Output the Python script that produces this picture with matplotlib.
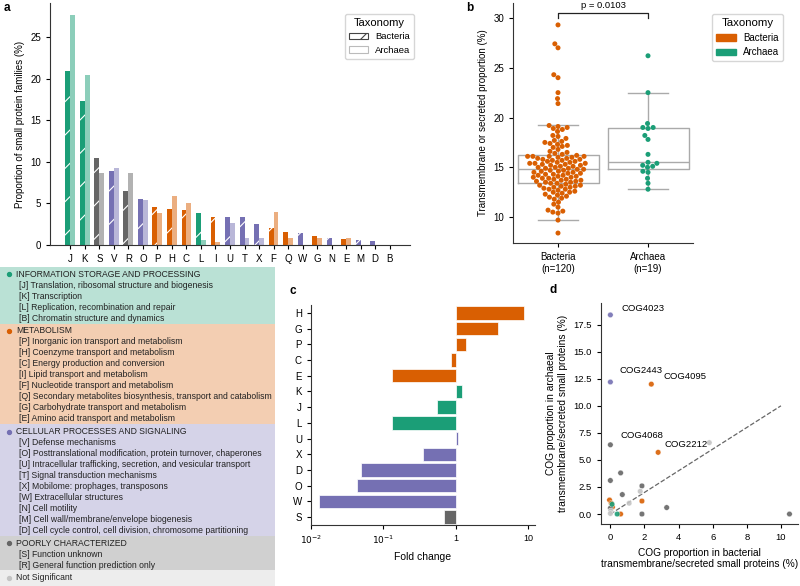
import numpy as np
import pandas as pd
import matplotlib
matplotlib.use('Agg')
import matplotlib.pyplot as plt
from matplotlib.patches import Patch, Rectangle
import seaborn as sns

plt.rcParams['font.family'] = ['Liberation Sans', 'DejaVu Sans']
plt.rcParams['font.size'] = 6.5
plt.rcParams['axes.edgecolor'] = '#333333'
plt.rcParams['axes.linewidth'] = 0.8
plt.rcParams['xtick.major.width'] = 0.8
plt.rcParams['ytick.major.width'] = 0.8
plt.rcParams['xtick.major.size'] = 3
plt.rcParams['ytick.major.size'] = 3
plt.rcParams['hatch.linewidth'] = 0.8

# couleurs des categories COG
couleurs = {'info': '#1b9e77', 'metab': '#d95f02', 'cell': '#7570b3',
            'poor': '#666666', 'ns': '#c4c4c4'}
cat_lettre = {}
for l in "JKLB":
    cat_lettre[l] = 'info'
for l in "PHCIFQGE":
    cat_lettre[l] = 'metab'
for l in "VOUTXWNMD":
    cat_lettre[l] = 'cell'
for l in "SR":
    cat_lettre[l] = 'poor'

# ---- donnees panel a
a_lettres = list("JKSVROPHCLIUTXFQWGNEMDB")
a_bacteria = [20.9, 17.3, 10.5, 8.9, 6.5, 5.5, 4.6, 4.3, 4.2, 3.8, 3.4, 3.4, 3.4, 2.5, 2.1,
              1.6, 1.4, 1.1, 0.9, 0.7, 0.6, 0.5, 0.0]
a_archaea = [27.7, 20.4, 8.7, 9.2, 8.7, 5.4, 3.9, 5.9, 5.1, 0.6, 0.4, 2.7, 0.8, 0.9, 4.0,
             0.9, 0.0, 0.8, 0.0, 0.8, 0.0, 0.0, 0.0]

# ---- donnees panel b
b_bacteria = [8.4, 9.7, 10.4, 10.5, 10.6, 10.7, 11.0, 11.3, 11.5, 11.8, 11.9, 12.0, 12.1, 12.2,
              12.3, 12.4, 12.5, 12.5, 12.6, 12.7, 12.8, 12.8, 12.9, 13.0, 13.0, 13.1, 13.1, 13.2,
              13.2, 13.3,
              13.4, 13.4, 13.5, 13.5, 13.6, 13.6, 13.7, 13.7, 13.8, 13.8, 13.9, 13.9, 14.0, 14.0,
              14.1, 14.1, 14.2, 14.2, 14.3, 14.3, 14.4, 14.4, 14.5, 14.5, 14.6, 14.6, 14.7, 14.7,
              14.8, 14.8,
              14.9, 14.9, 15.0, 15.0, 15.1, 15.1, 15.2, 15.2, 15.3, 15.3, 15.4, 15.4, 15.4, 15.5,
              15.5, 15.6, 15.6, 15.7, 15.7, 15.8, 15.8, 15.9, 15.9, 16.0, 16.0, 16.1, 16.1, 16.1,
              16.1, 16.2,
              16.3, 16.4, 16.5, 16.6, 16.8, 17.0, 17.1, 17.2, 17.3, 17.4, 17.5, 17.6, 17.7,
              17.9, 18.1, 18.2, 18.6, 18.8, 18.9, 19.0, 19.1, 19.2,
              21.4, 21.9, 22.5, 24.0, 24.3, 27.0, 27.4, 29.3]
b_archaea = [12.8, 13.4, 13.9, 14.5, 14.6, 15.0, 15.1, 15.2, 15.4, 15.5, 16.3, 17.8, 18.2,
             18.9, 19.0, 19.0, 19.4, 22.5, 26.2]
b_pvaleur = "p = 0.0103"

# ---- donnees panel c
c_lettres = ['H', 'G', 'P', 'C', 'E', 'K', 'J', 'L', 'U', 'X', 'D', 'O', 'W', 'S']
c_fold = [8.7, 3.9, 1.4, 0.86, 0.13, 1.22, 0.55, 0.13, 1.07, 0.35, 0.049, 0.043, 0.013, 0.68]

# ---- donnees panel d
d_x = [0.0, 0.0, 2.4, 0.0, 2.8, 5.8, 0.6, 0.0, 0.7, 1.85, 1.75, 1.85, 1.1, 3.3, 1.85, 10.5,
       0.6, 0.4, -0.05, 0.05, 0.12, 0.0, 0.02, 0.0, 0.1]
d_y = [18.4, 12.2, 12.0, 6.4, 5.7, 6.6, 3.8, 3.1, 1.8, 2.6, 2.1, 1.2, 1.0, 0.6, 0.0, 0.0,
       0.0, 0.0, 1.3, 1.0, 0.64, 0.55, 0.3, 0.05, 0.9]
d_cat = ['cell', 'cell', 'metab', 'poor', 'metab', 'ns', 'poor', 'poor', 'poor', 'poor', 'ns',
         'metab', 'ns', 'poor', 'poor', 'poor', 'metab', 'info', 'metab', 'metab', 'metab',
         'poor', 'ns', 'ns', 'info']
d_noms = ['COG4023', 'COG2443', 'COG4095', 'COG4068', 'COG2212']
d_noms_x = [0.65, 0.55, 3.1, 0.6, 3.2]
d_noms_y = [19.0, 13.3, 12.7, 7.3, 6.4]

# ---- groupes pour la legende des categories
groupes = [
    ('info', 'INFORMATION STORAGE AND PROCESSING',
     ['[J] Translation, ribosomal structure and biogenesis', '[K] Transcription',
      '[L] Replication, recombination and repair', '[B] Chromatin structure and dynamics']),
    ('metab', 'METABOLISM',
     ['[P] Inorganic ion transport and metabolism', '[H] Coenzyme transport and metabolism',
      '[C] Energy production and conversion', '[I] Lipid transport and metabolism',
      '[F] Nucleotide transport and metabolism',
      '[Q] Secondary metabolites biosynthesis, transport and catabolism',
      '[G] Carbohydrate transport and metabolism', '[E] Amino acid transport and metabolism']),
    ('cell', 'CELLULAR PROCESSES AND SIGNALING',
     ['[V] Defense mechanisms',
      '[O] Posttranslational modification, protein turnover, chaperones',
      '[U] Intracellular trafficking, secretion, and vesicular transport',
      '[T] Signal transduction mechanisms', '[X] Mobilome: prophages, transposons',
      '[W] Extracellular structures', '[N] Cell motility',
      '[M] Cell wall/membrane/envelope biogenesis',
      '[D] Cell cycle control, cell division, chromosome partitioning']),
    ('poor', 'POORLY CHARACTERIZED',
     ['[S] Function unknown', '[R] General function prediction only']),
    ('ns', 'Not Significant', []),
]

W, H = 800, 586
fig = plt.figure(figsize=(8, 5.86), dpi=100)


def boite(x0, y0, x1, y1):
    # pixels -> fraction de figure
    return [x0 / W, 1 - y1 / H, (x1 - x0) / W, (y1 - y0) / H]


def enlever_spines(ax):
    ax.spines['top'].set_visible(False)
    ax.spines['right'].set_visible(False)


# ======================= panel a =======================
ax_a = fig.add_axes(boite(50, 3, 410, 245))
pos = np.arange(len(a_lettres))
larg = 0.34
cols_a = [couleurs[cat_lettre[l]] for l in a_lettres]
ax_a.bar(pos - larg / 2, a_bacteria, width=larg, color=cols_a, edgecolor='white',
         linewidth=0, hatch='/')
ax_a.bar(pos + larg / 2, a_archaea, width=larg, color=cols_a, alpha=0.5, linewidth=0)
ax_a.set_xticks(pos)
ax_a.set_xticklabels(a_lettres, fontsize=7)
ax_a.tick_params(axis='y', labelsize=7)
ax_a.set_xlim(-1.4, 23.4)
ax_a.set_ylim(0, 29.1)
ax_a.set_yticks([0, 5, 10, 15, 20, 25])
ax_a.set_ylabel("Proportion of small protein families (%)", fontsize=7)
enlever_spines(ax_a)
ax_a.legend(handles=[Patch(facecolor='white', edgecolor='#444444', hatch='/', lw=0.8),
                     Patch(facecolor='white', edgecolor='#bbbbbb', lw=0.8)],
            labels=['Bacteria', 'Archaea'], title='Taxonomy', loc='upper right',
            bbox_to_anchor=(1.025, 0.975), fontsize=6.8, title_fontsize=8,
            frameon=True, edgecolor='#cccccc')

# ======================= panel b =======================
ax_b = fig.add_axes(boite(513, 3, 693, 243))
gris_boite = '#aaaaaa'
ax_b.boxplot([b_bacteria, b_archaea], positions=[0, 1], widths=0.9, showfliers=False,
             boxprops=dict(color=gris_boite, lw=1), whiskerprops=dict(color=gris_boite, lw=1),
             capprops=dict(color=gris_boite, lw=1), medianprops=dict(color=gris_boite, lw=1))
df = pd.DataFrame({'tax': ['Bacteria'] * len(b_bacteria) + ['Archaea'] * len(b_archaea),
                   'val': b_bacteria + b_archaea})
sns.swarmplot(data=df, x='tax', y='val', hue='tax', order=['Bacteria', 'Archaea'],
              palette={'Bacteria': couleurs['metab'], 'Archaea': couleurs['info']},
              size=3.6, ax=ax_b, legend=False, zorder=3)
ax_b.set_xlim(-0.5, 1.5)
ax_b.set_ylim(7.4, 31.5)
ax_b.set_xticks([0, 1])
ax_b.set_xticklabels(['Bacteria\n(n=%d)' % len(b_bacteria), 'Archaea\n(n=%d)' % len(b_archaea)],
                     fontsize=7)
ax_b.tick_params(axis='y', labelsize=7)
ax_b.set_yticks([10, 15, 20, 25, 30])
ax_b.set_xlabel('')
ax_b.set_ylabel("Transmembrane or secreted proportion (%)", fontsize=7)
enlever_spines(ax_b)
ax_b.plot([0, 0, 1, 1], [30.0, 30.45, 30.45, 30.0], color='#222222', lw=0.9, clip_on=False)
ax_b.text(0.5, 30.8, b_pvaleur, ha='center', va='bottom', fontsize=6.8, clip_on=False)
ax_b.legend(handles=[Patch(color=couleurs['metab']), Patch(color=couleurs['info'])],
            labels=['Bacteria', 'Archaea'], title='Taxonomy', loc='upper left',
            bbox_to_anchor=(1.08, 0.975), fontsize=7, title_fontsize=8.2, frameon=True,
            edgecolor='#cccccc')

# ======================= panel c =======================
ax_c = fig.add_axes(boite(311, 305, 535, 525))
yc = np.arange(len(c_lettres))
cols_c = [couleurs[cat_lettre[l]] for l in c_lettres]
ax_c.barh(yc, np.array(c_fold) - 1, left=1, height=0.85, color=cols_c, edgecolor='white',
          linewidth=0.5)
ax_c.set_xscale('log')
ax_c.set_xlim(0.01, 12.5)
ax_c.set_ylim(13.5, -0.5)
ax_c.set_yticks(yc)
ax_c.set_yticklabels(c_lettres, fontsize=7)
ax_c.set_xticks([0.01, 0.1, 1, 10])
ax_c.set_xticklabels([r'$10^{-2}$', r'$10^{-1}$', '1', '10'])
ax_c.xaxis.set_minor_locator(matplotlib.ticker.NullLocator())
ax_c.set_xlabel("Fold change", fontsize=7.5)
enlever_spines(ax_c)

# ======================= panel d =======================
ax_d = fig.add_axes(boite(601, 303, 798, 524))
ax_d.plot([0, 10], [0, 10], ls='--', color='#666666', lw=0.9, zorder=1)
ax_d.scatter(d_x, d_y, c=[couleurs[c] for c in d_cat], s=16, edgecolors='white',
             linewidths=0.3, alpha=0.9, zorder=2)
for nom, tx, ty in zip(d_noms, d_noms_x, d_noms_y):
    ax_d.text(tx, ty, nom, fontsize=6.8, va='center', ha='left')
ax_d.set_xlim(-0.55, 11.0)
ax_d.set_ylim(-0.92, 19.5)
ax_d.set_xticks([0, 2, 4, 6, 8, 10])
ax_d.set_yticks([0, 2.5, 5, 7.5, 10, 12.5, 15, 17.5])
ax_d.tick_params(labelsize=6.8)
ax_d.yaxis.set_major_formatter(matplotlib.ticker.FormatStrFormatter('%.1f'))
ax_d.set_xlabel("COG proportion in bacterial\ntransmembrane/secreted small proteins (%)",
                fontsize=7.3)
ax_d.set_ylabel("COG proportion in archaeal\ntransmembrane/secreted small proteins (%)",
                fontsize=7.3)
enlever_spines(ax_d)

# ======================= legende des categories =======================
ax_l = fig.add_axes(boite(0, 267, 275, 586))
ax_l.set_xlim(0, 275)
ax_l.set_ylim(586, 267)
ax_l.axis('off')
pas = 11.0
y = 267
for cat, titre, items in groupes:
    n = 1 + len(items)
    haut = n * pas + 1.6
    if cat == 'ns':
        haut = 586 - y
    ax_l.add_patch(Rectangle((0, y), 275, haut, color=couleurs[cat], alpha=0.3, lw=0))
    yt = y + 7.3
    ax_l.scatter([9], [yt], s=8, color=couleurs[cat], zorder=3)
    ax_l.text(16, yt, titre, fontsize=6.2, va='center', ha='left', color='#222222')
    for it in items:
        yt += pas
        ax_l.text(19, yt, it, fontsize=6.2, va='center', ha='left', color='#222222')
    y += haut

# lettres des panels
for lettre, px, py in [('a', 4, 8), ('b', 466, 8), ('c', 289, 291), ('d', 549, 290)]:
    fig.text(px / W, 1 - py / H, lettre, fontsize=8.5, fontweight='bold', va='center')

fig.savefig('out.png', dpi=100)
